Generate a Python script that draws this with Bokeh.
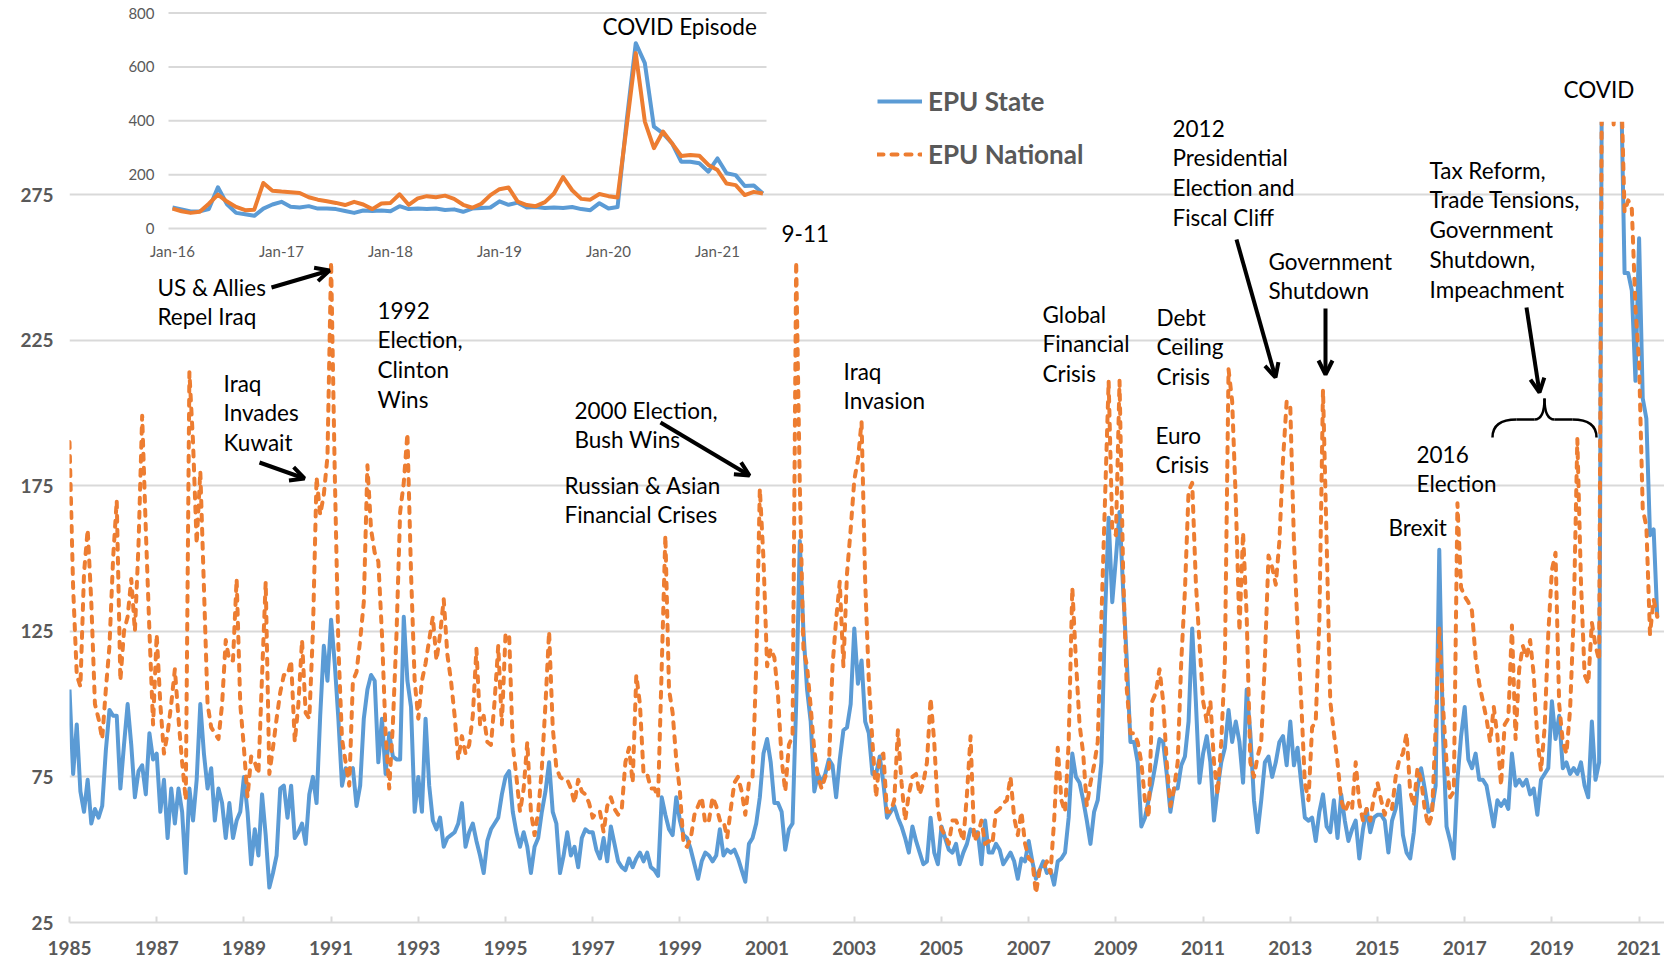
import numpy as np
from bokeh.plotting import figure
from bokeh.models import (Range1d, FixedTicker, Legend, LegendItem, Arrow, OpenHead,
                          ColumnDataSource)
from bokeh.embed import file_html
from bokeh.resources import INLINE
from bokeh.core.properties import value

# ---------------- data (monthly, Jan 1985 - Jun 2021) ----------------
start_year = 1985
epu_national = [
    190, 140, 110, 106, 145, 160, 135, 100, 95, 88, 105, 120,      # 1985
    150, 170, 108, 125, 130, 143, 125, 155, 199, 160, 125, 93,     # 1986
    124, 100, 83, 90, 100, 112, 95, 80, 67, 214, 190, 155,         # 1987
    180, 140, 100, 92, 90, 88, 100, 122, 115, 115, 143, 100,       # 1988
    85, 68, 82, 80, 76, 110, 142, 76, 85, 95, 104, 110,            # 1989
    110, 115, 87, 100, 122, 97, 95, 125, 178, 165, 172, 185,       # 1990
    252, 180, 120, 88, 80, 72, 108, 111, 122, 135, 182, 160,       # 1991
    152, 149, 124, 90, 71, 93, 124, 166, 176, 193, 145, 108,       # 1992
    95, 108, 114, 122, 130, 115, 124, 136, 117, 108, 96, 81,       # 1993
    89, 83, 86, 96, 119, 93, 96, 87, 86, 101, 120, 93,             # 1994
    124, 124, 86, 75, 63, 71, 87, 63, 55, 63, 78, 100,             # 1995
    125, 92, 78, 75, 74, 74, 71, 66, 74, 70, 69, 66,               # 1996
    61, 63, 63, 56, 65, 68, 64, 62, 64, 80, 85, 73,                # 1997
    110, 100, 76, 76, 71, 71, 68, 113, 158, 105, 97, 81,           # 1998
    70, 52, 51, 54, 62, 65, 68, 59, 60, 68, 65, 60,                # 1999
    60, 54, 64, 73, 75, 70, 62, 73, 75, 113, 174, 150,             # 2000
    113, 119, 116, 103, 81, 70, 86, 89, 252, 175, 119, 113,        # 2001
    99, 84, 75, 71, 75, 78, 113, 129, 142, 113, 145, 160,          # 2002
    177, 184, 197, 142, 108, 87, 68, 82, 83, 63, 63, 67,           # 2003
    91, 73, 60, 69, 75, 76, 69, 73, 80, 102, 87, 64,               # 2004
    57, 55, 52, 60, 60, 57, 53, 69, 89, 53, 55, 60,                # 2005
    52, 53, 52, 63, 64, 66, 67, 75, 61, 55, 63, 52,                # 2006
    47, 46, 35, 43, 43, 46, 42, 60, 85, 67, 63, 87,                # 2007
    140, 115, 93, 83, 65, 73, 79, 87, 129, 170, 211, 160,          # 2008
    158, 211, 145, 105, 90, 90, 87, 80, 67, 61, 101, 104,          # 2009
    112, 101, 80, 65, 71, 80, 115, 139, 173, 176, 142, 121,        # 2010
    101, 94, 101, 80, 69, 87, 115, 215, 204, 170, 125, 159,        # 2011
    130, 80, 75, 82, 87, 115, 151, 147, 141, 156, 184, 204,        # 2012
    202, 156, 126, 101, 73, 67, 92, 94, 129, 208, 156, 101,        # 2013
    90, 80, 67, 63, 66, 64, 80, 66, 60, 64, 60, 68,                # 2014
    73, 67, 62, 67, 64, 75, 81, 83, 90, 70, 65, 78,                # 2015
    74, 64, 58, 62, 92, 126, 100, 80, 68, 70, 169, 140,            # 2016
    137, 135, 132, 116, 107, 101, 95, 87, 99, 89, 72, 93,          # 2017
    95, 127, 88, 112, 120, 116, 122, 110, 88, 77, 92, 124,         # 2018
    146, 152, 100, 87, 83, 98, 130, 191, 142, 110, 107, 128,       # 2019
    120, 115, 380, 651, 397, 298, 360, 316, 269, 273, 270, 236,    # 2020
    217, 167, 161, 124, 136, 130,                                  # 2021
]
epu_state = [
    105, 76, 93, 70, 63, 74, 59, 64, 61, 65, 84, 98,               # 1985
    96, 96, 71, 86, 100, 86, 68, 77, 79, 69, 90, 81,               # 1986
    83, 63, 74, 54, 71, 59, 71, 63, 42, 71, 60, 74,                # 1987
    100, 83, 71, 78, 60, 71, 66, 54, 66, 54, 60, 63,               # 1988
    75, 63, 45, 57, 48, 69, 55, 37, 42, 48, 71, 72,                # 1989
    61, 72, 54, 56, 59, 52, 69, 75, 66, 96, 120, 108,              # 1990
    129, 114, 95, 72, 78, 77, 78, 65, 72, 95, 105, 110,            # 1991
    108, 80, 95, 76, 90, 82, 81, 81, 130, 108, 99, 63,             # 1992
    75, 63, 95, 72, 60, 57, 61, 51, 54, 55, 56, 59,                # 1993
    66, 51, 56, 59, 53, 48, 42, 53, 57, 59, 61, 69,                # 1994
    75, 77, 63, 56, 51, 56, 51, 42, 51, 54, 63, 70,                # 1995
    80, 63, 59, 42, 48, 56, 48, 51, 44, 54, 57, 56,                # 1996
    56, 50, 47, 54, 46, 58, 52, 46, 44, 43, 47, 44,                # 1997
    47, 49, 46, 49, 44, 43, 41, 68, 62, 57, 55, 68,                # 1998
    60, 55, 54, 50, 45, 40, 46, 49, 48, 46, 48, 57,                # 1999
    48, 50, 49, 50, 47, 43, 39, 52, 54, 59, 68, 83,                # 2000
    88, 80, 66, 66, 63, 50, 57, 59, 100, 156, 125, 105,            # 2001
    94, 70, 76, 73, 76, 81, 79, 68, 81, 91, 92, 100,               # 2002
    126, 107, 115, 94, 90, 76, 76, 82, 73, 61, 63, 65,             # 2003
    61, 58, 54, 49, 58, 53, 49, 45, 46, 61, 49, 45,                # 2004
    58, 54, 50, 49, 52, 45, 49, 52, 57, 56, 56, 45,                # 2005
    60, 49, 49, 52, 50, 45, 47, 49, 46, 40, 47, 46,                # 2006
    53, 46, 40, 43, 46, 42, 43, 38, 46, 47, 49, 61,                # 2007
    83, 75, 73, 67, 60, 52, 63, 67, 80, 130, 164, 135,             # 2008
    150, 166, 139, 115, 87, 87, 80, 58, 61, 67, 73, 80,            # 2009
    88, 87, 76, 63, 71, 71, 79, 82, 94, 126, 101, 73,              # 2010
    83, 89, 80, 60, 71, 80, 85, 98, 87, 94, 87, 73,                # 2011
    105, 90, 67, 56, 67, 80, 82, 75, 80, 87, 89, 79,               # 2012
    94, 79, 85, 73, 61, 60, 61, 53, 63, 69, 58, 56,                # 2013
    67, 54, 69, 60, 53, 57, 60, 47, 57, 64, 56, 61,                # 2014
    62, 62, 60, 49, 60, 64, 72, 55, 49, 47, 56, 71,                # 2015
    78, 71, 63, 64, 72, 153, 90, 58, 53, 47, 74, 89,               # 2016
    99, 81, 78, 83, 74, 74, 72, 65, 58, 67, 65, 67,                # 2017
    64, 83, 72, 74, 72, 74, 69, 71, 62, 74, 76, 78,                # 2018
    101, 88, 96, 78, 80, 76, 78, 76, 80, 72, 68, 94,               # 2019
    74, 80, 400, 688, 614, 378, 353, 316, 248, 248, 242, 211,      # 2020
    260, 205, 198, 158, 160, 130,                                  # 2021
]
year_ticks = list(range(1985, 2022, 2))
year_labels = [str(y) for y in year_ticks]
value_ticks = [25, 75, 125, 175, 225, 275]
main_clip_top = 300

inset_start_year = 2016
inset_month_ticks = [0, 12, 24, 36, 48, 60]
inset_month_labels = ["Jan-16", "Jan-17", "Jan-18", "Jan-19", "Jan-20", "Jan-21"]
inset_value_ticks = [0, 200, 400, 600, 800]

# ---------------- layout (page pixels) ----------------
PAGE = 0
W, H = 1664, 963
FL, FR, FT, FB = 69, 1664, 0, 922
XPX = 43.6             # px per year
YPX = 145.6 / 50.0     # px per index point


def yr(px):
    return start_year + (px - FL) / XPX


def val(py):
    return 25 + (FB - py) / YPX


IX0, IXPX = 172.0, 109.0 / 12.0     # inset: page x of Jan-16, px per month
IY0, IYPX = 228.0, 215.5 / 800.0    # inset: page y of 0, px per unit


def im(px):
    return (px - IX0) / IXPX


def iv(py):
    return (IY0 - py) / IYPX


GRID = "#d9d9d9"
LABEL = "#595959"
BLUE = "#5B9BD5"
ORANGE = "#ED7D31"
FONT = "Lato"

p = figure(width=W, height=H,
           x_range=Range1d(yr(FL), yr(FR)), y_range=Range1d(val(FB), val(FT)),
           output_backend="svg", toolbar_location=None,
           min_border_left=FL - PAGE, min_border_right=PAGE + W - FR,
           min_border_top=FT - PAGE, min_border_bottom=PAGE + H - FB)
p.outline_line_color = None
p.background_fill_color = "white"
p.extra_x_ranges = {"ix": Range1d(im(FL), im(FR))}
p.extra_y_ranges = {"iy": Range1d(iv(FB), iv(FT))}

# axes
p.xaxis.ticker = FixedTicker(ticks=year_ticks)
p.xaxis.major_label_overrides = {t: l for t, l in zip(year_ticks, year_labels)}
p.xaxis.axis_line_color = GRID
p.xaxis.axis_line_width = 2
p.xaxis.major_tick_in = 6
p.xaxis.major_tick_out = 0
p.xaxis.major_tick_line_color = GRID
p.xaxis.major_tick_line_width = 2
p.xaxis.minor_tick_line_color = None
p.xaxis.major_label_standoff = 18
p.yaxis.ticker = FixedTicker(ticks=value_ticks)
p.yaxis.axis_line_color = None
p.yaxis.major_tick_line_color = None
p.yaxis.minor_tick_line_color = None
p.yaxis.major_label_standoff = 10
for ax in (p.xaxis, p.yaxis):
    ax.major_label_text_font = FONT
    ax.major_label_text_font_style = "bold"
    ax.major_label_text_font_size = "19px"
    ax.major_label_text_color = LABEL
p.xgrid.grid_line_color = None
p.ygrid.ticker = FixedTicker(ticks=value_ticks)
p.ygrid.grid_line_color = GRID
p.ygrid.grid_line_width = 2

# main series
n = len(epu_national)
months_x = start_year + np.arange(n) / 12.0
r_state = p.line(months_x, epu_state, line_color=BLUE, line_width=4, line_join="round")
r_nat = p.line(months_x, epu_national, line_color=ORANGE, line_width=4,
               line_dash="6 8", line_cap="round", line_join="round")

# white mask: the main chart is cut off at its top value
p.quad(left=[yr(FL) - 1], right=[yr(FR) + 1], bottom=[main_clip_top], top=[val(FT) + 200],
       fill_color="white", fill_alpha=1.0, line_color=None, level="guide")

# ---------------- inset ----------------
i0 = (inset_start_year - start_year) * 12
inset_x = np.arange(n - i0)
ix_left, ix_right = im(168), im(766)
p.segment(x0=[ix_left] * len(inset_value_ticks), x1=[ix_right] * len(inset_value_ticks),
          y0=inset_value_ticks, y1=inset_value_ticks, line_color=GRID, line_width=2,
          x_range_name="ix", y_range_name="iy", level="overlay")
p.line(inset_x, epu_state[i0:], line_color=BLUE, line_width=4, line_join="round",
       x_range_name="ix", y_range_name="iy", level="overlay")
p.line(inset_x, epu_national[i0:], line_color=ORANGE, line_width=4, line_join="round",
       x_range_name="ix", y_range_name="iy", level="overlay")
p.text(x=[im(154)] * len(inset_value_ticks), y=inset_value_ticks,
       text=[str(v) for v in inset_value_ticks], text_align="right", text_baseline="middle",
       text_font=value(FONT), text_font_size="15px", text_color=LABEL,
       x_range_name="ix", y_range_name="iy", level="overlay")
p.text(x=inset_month_ticks, y=[iv(250)] * len(inset_month_ticks), text=inset_month_labels,
       text_align="center", text_baseline="middle",
       text_font=value(FONT), text_font_size="15px", text_color=LABEL,
       x_range_name="ix", y_range_name="iy", level="overlay")

# ---------------- annotations ----------------
notes = [
    (157, 285, "US & Allies\nRepel Iraq"),
    (223, 381, "Iraq\nInvades\nKuwait"),
    (377, 308, "1992\nElection,\nClinton\nWins"),
    (574, 408, "2000 Election,\nBush Wins"),
    (564, 483, "Russian & Asian\nFinancial Crises"),
    (781, 236, "9-11"),
    (843, 369, "Iraq\nInvasion"),
    (1042, 312, "Global\nFinancial\nCrisis"),
    (1156, 315, "Debt\nCeiling\nCrisis"),
    (1155, 433, "Euro\nCrisis"),
    (1172, 126, "2012\nPresidential\nElection and\nFiscal Cliff"),
    (1268, 259, "Government\nShutdown"),
    (1563, 87, "COVID"),
    (1429, 168, "Tax Reform,\nTrade Tensions,\nGovernment\nShutdown,\nImpeachment"),
    (1416, 452, "2016\nElection"),
    (1388, 525, "Brexit"),
    (602, 24, "COVID Episode"),
]
note_src = ColumnDataSource(dict(x=[yr(a) for a, b, t in notes],
                                 y=[val(b - 12) for a, b, t in notes],
                                 text=[t for a, b, t in notes]))
p.text(x="x", y="y", text="text", source=note_src, text_align="left", text_baseline="top",
       text_font=value(FONT), text_font_size="22.5px", text_color="black",
       text_line_height=1.11, level="overlay")

arrows = [
    (271, 287, 329, 270),
    (259, 462, 304, 478),
    (660, 422, 749, 475),
    (1236, 239, 1275, 377),
    (1325, 308, 1325, 374),
    (1526, 307, 1539, 392),
]
for x0, y0, x1, y1 in arrows:
    p.add_layout(Arrow(x_start=yr(x0), y_start=val(y0), x_end=yr(x1), y_end=val(y1),
                       line_width=4, line_color="black",
                       end=OpenHead(size=14, line_width=4, line_color="black"),
                       level="overlay"))

# curly brace under the "Tax Reform ..." arrow
bl, bc, br = 1492, 1544, 1596
b_end, b_mid, b_tip = 437, 419, 398
qx0 = [bl, bc, bc, br]
qy0 = [b_end, b_tip, b_tip, b_end]
qx1 = [bl + 24, bc - 10, bc + 10, br - 24]
qy1 = [b_mid, b_mid, b_mid, b_mid]
qcx = [bl, bc, bc, br]
qcy = [b_mid, b_mid, b_mid, b_mid]
p.quadratic(x0=[yr(v) for v in qx0], y0=[val(v) for v in qy0],
            x1=[yr(v) for v in qx1], y1=[val(v) for v in qy1],
            cx=[yr(v) for v in qcx], cy=[val(v) for v in qcy],
            line_color="black", line_width=2.5, level="overlay")
p.segment(x0=[yr(bl + 24), yr(bc + 10)], y0=[val(b_mid)] * 2,
          x1=[yr(bc - 10), yr(br - 24)], y1=[val(b_mid)] * 2,
          line_color="black", line_width=2.5, level="overlay")

# ---------------- legend ----------------
legend = Legend(items=[LegendItem(label="EPU State", renderers=[r_state]),
                       LegendItem(label="EPU National", renderers=[r_nat])],
                location=(877 - FL, FB - 170), orientation="vertical",
                padding=0, margin=0, spacing=21, glyph_width=45, glyph_height=32,
                label_height=32, label_standoff=6,
                label_text_font=FONT, label_text_font_style="bold",
                label_text_font_size="26px", label_text_color=LABEL,
                border_line_color=None, background_fill_alpha=0)
p.add_layout(legend)

open("out.html", "w").write(file_html(p, INLINE))
